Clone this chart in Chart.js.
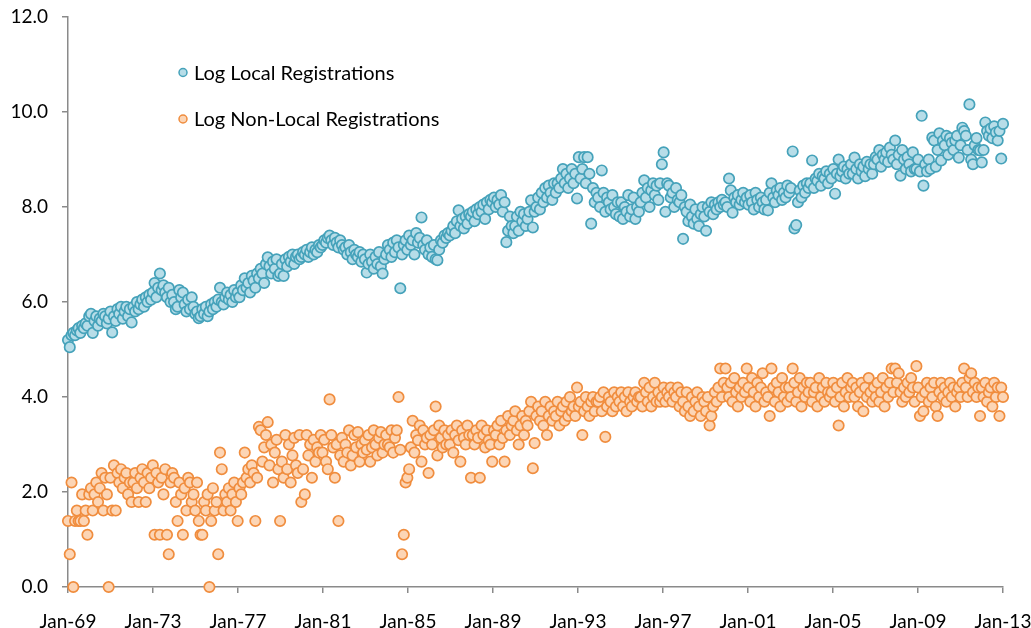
<!DOCTYPE html>
<html><head><meta charset="utf-8">
<script src="https://cdn.jsdelivr.net/npm/chart.js@4.4.0/dist/chart.umd.min.js"></script>
<style>html,body{margin:0;padding:0;background:#fff;overflow:hidden}#wrap{width:1031px;height:628px;position:relative}</style>
</head><body><div id="wrap"><canvas id="c" width="1031" height="628"></canvas></div>
<script>
// Tick labels on the month axis (one every 48 months, starting Jan-69)
const tickLabels = ['Jan-69','Jan-73','Jan-77','Jan-81','Jan-85','Jan-89','Jan-93','Jan-97','Jan-01','Jan-05','Jan-09','Jan-13'];
const seriesNames = ['Log Local Registrations','Log Non-Local Registrations'];
// Monthly values, Jan-69 .. Feb-13 (one row per year)
const localRegs = [
5.2,5.05,5.3,5.35,5.3,5.4,5.45,5.35,5.5,5.45,5.55,5.5,
5.7,5.75,5.35,5.6,5.7,5.5,5.65,5.6,5.75,5.7,5.55,5.65,
5.8,5.36,5.7,5.6,5.85,5.75,5.9,5.65,5.8,5.9,5.7,5.85,
5.57,5.9,5.8,6.0,5.85,5.95,6.05,5.9,6.1,6.0,6.15,6.05,
6.2,6.4,6.1,6.3,6.6,6.25,6.35,6.2,6.1,6.3,6.0,6.15,
6.0,5.85,5.9,6.25,6.1,6.2,5.95,5.8,6.05,5.85,6.1,5.9,
5.75,5.8,5.66,5.7,5.85,5.75,5.9,5.7,5.8,5.95,5.85,6.0,
5.9,6.05,6.3,6.0,5.95,6.1,6.2,6.05,6.15,6.0,6.25,6.1,
6.2,6.1,6.35,6.25,6.5,6.3,6.4,6.2,6.55,6.45,6.3,6.6,
6.5,6.7,6.6,6.4,6.8,6.94,6.75,6.6,6.85,6.7,6.9,6.55,
6.6,6.8,6.55,6.9,6.75,6.95,6.85,7.0,6.8,6.95,7.0,6.9,
6.95,7.05,7.0,7.1,6.95,7.05,7.15,7.0,7.1,7.05,7.2,7.15,
7.2,7.3,7.25,7.35,7.4,7.3,7.2,7.35,7.25,7.15,7.3,7.2,
7.1,7.15,7.0,7.2,7.05,6.9,7.1,7.0,6.95,7.05,6.85,7.0,
6.9,6.62,6.8,7.0,6.85,6.7,6.95,6.8,7.05,6.75,6.6,6.9,
7.0,7.2,7.1,6.95,7.25,7.05,7.3,7.15,6.29,7.0,7.2,7.3,
7.1,7.4,7.2,7.3,7.0,7.45,7.25,7.35,7.78,7.2,7.1,7.3,
7.0,7.15,6.95,7.2,6.9,6.88,7.1,7.3,7.25,7.4,7.35,7.45,
7.4,7.5,7.6,7.45,7.7,7.93,7.6,7.75,7.55,7.8,7.65,7.85,
7.8,7.9,7.7,7.95,7.85,8.0,7.9,8.05,7.75,8.1,7.95,8.15,
8.1,8.2,8.0,8.15,8.05,8.25,7.9,8.1,7.26,7.5,7.8,7.6,
7.45,7.6,7.8,7.5,7.9,7.7,7.85,7.6,7.75,7.9,8.14,7.57,
7.9,8.0,8.2,7.95,8.3,8.1,8.4,8.2,8.45,8.3,8.15,8.5,
8.3,8.5,8.4,8.6,8.8,8.5,8.7,8.4,8.6,8.8,8.5,8.7,
8.18,9.05,8.6,8.8,9.05,8.5,9.05,8.7,7.65,8.4,8.1,8.3,
8.2,8.0,8.77,8.3,7.9,8.2,8.1,7.95,8.25,8.0,7.85,8.1,
7.8,8.1,7.75,8.0,7.9,8.25,7.8,7.95,8.2,7.75,8.0,7.9,
8.1,8.3,8.56,8.2,8.4,8.0,8.35,8.5,8.25,8.45,8.15,8.5,
8.9,9.15,7.9,8.5,8.45,8.2,8.3,8.0,8.4,8.15,8.1,8.25,
7.33,8.0,7.9,7.7,8.05,7.8,7.65,7.95,7.75,7.6,7.85,8.0,
7.8,7.5,8.0,7.9,8.1,7.85,8.05,7.95,8.1,8.0,8.15,8.05,
8.1,8.0,8.6,8.35,7.88,8.2,8.1,8.25,8.05,8.15,8.3,8.1,
8.2,8.05,8.25,8.1,7.95,8.3,8.15,8.0,8.2,8.1,7.95,8.15,
7.93,8.3,8.5,8.2,8.1,8.35,8.25,8.4,8.15,8.3,8.2,8.45,
8.3,8.4,9.17,7.55,7.62,8.1,8.35,8.2,8.45,8.3,8.5,8.4,
8.5,8.98,8.4,8.6,8.55,8.7,8.45,8.65,8.6,8.75,8.5,8.7,
8.6,8.8,8.28,8.7,9.0,8.65,8.75,8.85,8.6,8.8,8.7,8.9,
8.7,9.04,8.8,8.6,8.9,8.75,8.85,8.65,8.95,8.8,8.9,8.7,
8.9,9.05,9.0,9.2,8.85,9.1,9.0,9.15,8.95,9.25,9.1,9.0,
9.4,8.9,9.1,8.66,9.2,9.0,8.8,9.05,8.9,8.75,9.15,8.8,
8.8,9.0,8.75,9.92,8.45,8.9,8.75,9.0,8.8,9.46,9.4,8.85,
9.2,9.55,8.98,9.4,9.3,9.5,9.1,9.45,9.35,9.2,9.4,9.5,
9.04,9.3,9.67,9.6,9.5,9.2,10.16,9.0,8.9,9.3,9.45,9.2,
9.19,8.94,9.2,9.78,9.6,9.5,9.65,9.45,9.7,9.57,9.4,9.6,
9.02,9.75
];
const nonLocalRegs = [
1.39,0.69,2.2,0,1.39,1.61,1.39,1.39,1.95,1.39,1.61,1.1,
1.95,2.08,1.61,1.95,2.2,1.79,2.08,2.4,1.61,2.3,1.95,0,
2.3,1.61,2.56,1.61,2.4,2.2,2.48,2.08,2.3,2.4,1.95,2.2,
1.79,2.2,2.4,2.08,1.79,2.3,2.48,2.2,1.79,2.4,2.08,2.3,
2.56,1.1,2.4,2.2,1.1,2.3,1.95,2.48,1.1,0.69,2.2,2.4,
2.3,1.79,1.39,2.2,1.95,1.1,2.08,1.61,2.3,2.2,1.79,1.95,
1.61,2.2,1.39,1.1,1.1,1.79,1.61,1.95,0,1.39,2.08,1.61,
1.79,0.69,2.83,2.48,1.61,1.95,1.79,2.08,1.61,1.95,2.2,1.79,
1.39,2.08,1.95,2.2,2.83,2.3,2.48,2.2,2.56,2.4,1.39,2.3,
3.37,3.3,2.64,2.94,3.2,3.47,2.56,3.0,2.2,2.83,3.1,2.48,
1.39,2.64,2.3,3.2,2.48,3.0,2.2,2.77,3.14,2.56,2.4,3.2,
1.79,2.48,1.95,3.2,2.77,3.0,2.3,3.1,2.64,2.94,2.83,3.2,
2.83,3.1,2.64,2.48,3.95,3.2,2.94,2.3,3.0,1.39,2.77,3.14,
2.64,3.0,2.83,3.3,2.56,2.77,3.2,2.94,3.26,2.64,3.0,2.83,
3.09,2.89,3.2,2.64,2.94,3.3,3.0,2.77,3.14,3.26,2.83,3.0,
3.2,3.0,2.94,3.3,2.83,3.14,3.3,4.0,2.89,0.69,1.1,2.2,
2.3,2.48,2.94,3.5,2.83,3.2,3.09,3.4,2.64,3.3,3.0,3.14,
2.4,3.2,3.0,3.3,3.8,2.77,3.4,3.14,2.94,3.3,3.0,3.2,
3.0,3.3,2.83,3.2,3.4,3.09,2.64,3.3,3.14,3.0,3.4,3.2,
2.3,3.2,3.0,3.3,3.14,2.3,3.4,3.2,2.94,3.3,3.09,3.0,
2.64,3.3,3.2,3.4,3.0,3.5,3.14,2.64,3.3,3.6,3.2,3.4,
3.5,3.7,3.3,3.0,3.4,3.6,3.2,3.5,3.4,3.7,3.9,2.5,
3.03,3.6,3.8,3.5,3.7,3.4,3.9,3.2,3.6,3.8,3.5,3.7,
3.6,3.9,3.4,3.7,3.8,3.5,3.9,3.6,4.0,3.7,3.8,3.6,
4.2,3.8,3.9,3.2,3.7,4.0,3.8,3.6,3.9,4.0,3.7,3.9,
3.9,4.0,3.7,4.1,3.16,3.8,4.0,3.9,3.7,4.1,3.8,4.0,
3.9,4.1,3.8,4.0,3.7,4.1,3.9,3.8,4.0,4.1,3.9,4.0,
4.0,3.8,4.3,4.1,3.9,4.2,3.8,4.0,4.3,3.9,4.1,3.9,
4.0,4.2,3.9,4.1,4.0,4.2,3.9,4.1,4.0,4.2,3.8,4.1,
3.9,3.7,4.1,3.8,3.6,4.0,3.7,3.9,4.1,3.8,3.6,4.0,
3.9,3.7,4.0,3.4,3.6,3.8,4.1,3.9,4.2,4.6,4.0,4.3,
4.6,4.2,4.0,4.3,3.9,4.4,4.1,3.8,4.2,4.0,4.3,4.1,
4.6,4.2,3.9,4.4,4.1,3.8,4.3,4.0,4.2,4.5,3.9,4.1,
4.0,3.6,4.6,4.2,3.9,4.3,4.1,3.8,4.4,4.0,4.2,3.9,
4.2,4.0,4.6,4.3,3.9,4.1,4.4,3.8,4.2,4.0,4.3,4.1,
4.3,3.9,4.1,4.2,3.8,4.4,4.0,4.2,3.9,4.3,4.1,4.0,
4.1,4.3,3.9,4.2,3.4,4.0,4.3,3.8,4.1,4.4,4.0,4.2,
4.3,4.0,4.2,3.8,4.1,4.3,3.7,4.2,4.0,4.4,4.1,3.9,
4.2,4.0,4.3,3.9,4.1,4.4,3.8,4.2,4.0,4.3,4.6,4.1,
4.6,4.3,4.5,4.1,3.9,4.2,4.0,4.3,4.1,4.4,4.2,3.9,
4.65,4.2,3.6,4.0,3.7,4.1,4.3,3.9,4.2,4.0,4.3,3.8,
3.6,4.1,4.3,4.0,4.2,3.9,4.1,4.3,4.0,4.2,3.8,4.1,
4.2,4.0,4.3,4.6,4.2,4.0,4.4,4.5,4.1,4.3,4.0,4.2,
3.6,4.2,4.0,4.3,3.9,4.1,4.2,3.8,4.3,4.0,4.2,3.6,
4.2,4.0
];
const TICK_EVERY = 48;

const toPoints = arr => arr.map((v, i) => ({x: i, y: v}));
const FONT = 'Lato';

const insideLegend = {
  id: 'insideLegend',
  afterDraw(chart) {
    const ctx = chart.ctx;
    chart.data.datasets.forEach((ds, i) => {
      const y = 72.5 + i * 46.5;
      ctx.save();
      ctx.beginPath();
      ctx.arc(183, y, 4, 0, Math.PI * 2);
      ctx.fillStyle = ds.backgroundColor; ctx.fill();
      ctx.lineWidth = 1.5; ctx.strokeStyle = ds.borderColor; ctx.stroke();
      ctx.fillStyle = '#000';
      ctx.font = '20px ' + FONT;
      ctx.textBaseline = 'middle';
      ctx.textAlign = 'left';
      ctx.fillText(ds.label, 194, y + 1);
      ctx.restore();
    });
  }
};

const axisColor = '#8a8a8a';
new Chart(document.getElementById('c'), {
  type: 'scatter',
  data: {
    datasets: [
      {label: seriesNames[0], data: toPoints(localRegs), backgroundColor: '#b7dde8', borderColor: '#45a2ba', pointRadius: 5.2, pointBorderWidth: 1.7, clip: false},
      {label: seriesNames[1], data: toPoints(nonLocalRegs), backgroundColor: '#fcd5b5', borderColor: '#f08d3e', pointRadius: 5.2, pointBorderWidth: 1.7, clip: false}
    ]
  },
  options: {
    responsive: false, animation: false, events: [], devicePixelRatio: 1,
    layout: {padding: {top: 17, right: 28, left: 0, bottom: 0}},
    plugins: {legend: {display: false}, tooltip: {enabled: false}},
    scales: {
      x: {
        type: 'linear', min: 0, max: localRegs.length - 1,
        afterFit(s) { s.height = 41; s.paddingLeft = 0; s.paddingRight = 0; },
        border: {color: axisColor, width: 1.5},
        grid: {drawOnChartArea: false, drawTicks: true, tickLength: 6, color: axisColor, lineWidth: 1.5},
        ticks: {stepSize: TICK_EVERY, includeBounds: false, autoSkip: false, maxRotation: 0, padding: 17,
          color: '#000', font: {family: FONT, size: 19},
          callback: v => tickLabels[Math.round(v / TICK_EVERY)] ?? ''}
      },
      y: {
        min: 0, max: 12,
        afterFit(s) { s.width = 68; s.paddingTop = 0; s.paddingBottom = 0; },
        border: {color: axisColor, width: 1.5},
        grid: {drawOnChartArea: false, drawTicks: true, tickLength: 6, color: axisColor, lineWidth: 1.5},
        ticks: {stepSize: 2, padding: 14, color: '#000', font: {family: FONT, size: 19},
          callback: v => v.toFixed(1)}
      }
    }
  },
  plugins: [insideLegend]
});
</script>
</body></html>
